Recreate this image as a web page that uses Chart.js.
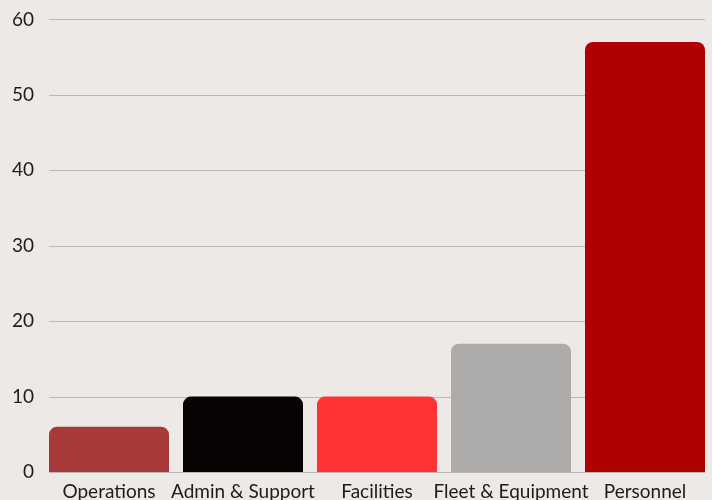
<!DOCTYPE html>
<html>
<head>
<meta charset="utf-8">
<script src="https://cdn.jsdelivr.net/npm/chart.js@4"></script>
<style>
  html, body { margin: 0; padding: 0; background: #ede9e6; }
  #wrap { width: 712px; height: 500px; }
</style>
</head>
<body>
<div id="wrap"><canvas id="chart" width="712" height="500"></canvas></div>
<script>
const categories = ['Operations', 'Admin & Support', 'Facilities', 'Fleet & Equipment', 'Personnel'];
const values = [6, 10, 10, 17, 57];
const barColors = ['#a93a3a', '#080302', '#ff3333', '#adacaa', '#b00000'];
const yTicks = [0, 10, 20, 30, 40, 50, 60];

// Horizontal guide lines spanning from the first bar's left edge to the last bar's right edge
const guideLines = {
  id: 'guideLines',
  beforeDatasetsDraw(chart) {
    const meta = chart.getDatasetMeta(0);
    const first = meta.data[0], last = meta.data[meta.data.length - 1];
    const left = first.x - first.width / 2;
    const right = last.x + last.width / 2;
    const y = chart.scales.y;
    const ctx = chart.ctx;
    ctx.save();
    ctx.strokeStyle = '#bdb8b5';
    ctx.lineWidth = 1;
    yTicks.forEach(v => {
      const py = Math.round(y.getPixelForValue(v)) + 0.5;
      ctx.beginPath();
      ctx.moveTo(left, py);
      ctx.lineTo(right, py);
      ctx.stroke();
    });
    ctx.restore();
  }
};

new Chart(document.getElementById('chart'), {
  type: 'bar',
  data: {
    labels: categories,
    datasets: [{
      data: values,
      backgroundColor: barColors,
      borderRadius: 8,
      borderSkipped: 'start',
      categoryPercentage: 1,
      barPercentage: 120 / 134
    }]
  },
  options: {
    responsive: false,
    animation: false,
    devicePixelRatio: 1,
    layout: { padding: { top: 19, right: 0, left: 0, bottom: 0 } },
    plugins: { legend: { display: false }, tooltip: { enabled: false } },
    scales: {
      x: {
        grid: { display: false, drawTicks: false },
        border: { display: false },
        ticks: {
          color: '#1c1c1c',
          font: { family: 'Lato', size: 19 },
          padding: 8,
          maxRotation: 0,
          autoSkip: false
        },
        afterFit(scale) { scale.height = 28; }
      },
      y: {
        min: 0,
        max: 60,
        grid: { display: false, drawTicks: false },
        border: { display: false },
        afterBuildTicks(scale) { scale.ticks = yTicks.map(v => ({ value: v })); },
        ticks: {
          color: '#1c1c1c',
          font: { family: 'Lato', size: 19 },
          padding: 8
        },
        afterFit(scale) { scale.width = 42; }
      }
    }
  },
  plugins: [guideLines]
});
</script>
</body>
</html>
